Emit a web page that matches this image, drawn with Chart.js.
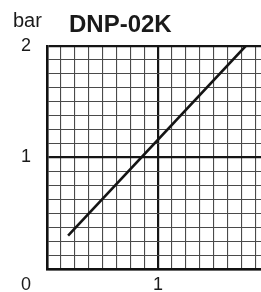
<!DOCTYPE html>
<html>
<head>
<meta charset="utf-8">
<script src="https://cdn.jsdelivr.net/npm/chart.js@4/dist/chart.umd.min.js"></script>
<style>
html,body{margin:0;padding:0;background:#fff;overflow:hidden;width:261px;height:292px;}
#wrap{position:relative;width:300px;height:292px;}
</style>
</head>
<body>
<div id="wrap"><canvas id="c" width="300" height="292"></canvas></div>
<script>
// Data
const titleText = "DNP-02K";
const yUnitLabel = "bar";
const flowX = [0.19, 1.79];
const pressureY = [0.30, 2.0];
const xTickLabels = ["1"];
const yTickLabels = ["1", "2"];
const originLabel = "0";

const points = flowX.map((x, i) => ({x: x, y: pressureY[i]}));

const isMajor = v => Math.abs(v - Math.round(v)) < 1e-6;
const tickFont = {family: "'Liberation Sans', Arial, sans-serif", size: 18};

const overlay = {
  id: 'overlay',
  afterDraw(chart) {
    const ctx = chart.ctx;
    ctx.save();
    ctx.fillStyle = '#1a1a1a';
    ctx.textBaseline = 'alphabetic';
    ctx.textAlign = 'left';
    ctx.font = "bold 24px 'Liberation Sans', Arial, sans-serif";
    ctx.fillText(titleText, 69, 32);
    ctx.font = "20px 'Liberation Sans', Arial, sans-serif";
    ctx.fillText(yUnitLabel, 13, 27);
    ctx.font = "18px 'Liberation Sans', Arial, sans-serif";
    ctx.textAlign = 'center';
    ctx.textBaseline = 'middle';
    ctx.fillText(originLabel, 26, 285);
    ctx.restore();
  }
};

new Chart(document.getElementById('c'), {
  type: 'scatter',
  data: {
    datasets: [{
      data: points,
      showLine: true,
      borderColor: '#141414',
      borderWidth: 2.6,
      pointRadius: 0,
      fill: false
    }]
  },
  options: {
    responsive: false,
    animation: false,
    devicePixelRatio: 1,
    layout: {padding: {top: 46, left: 0, right: 31, bottom: 0}},
    plugins: {legend: {display: false}, tooltip: {enabled: false}, title: {display: false}},
    scales: {
      x: {
        type: 'linear', min: 0, max: 2,
        afterFit: s => { s.height = 23; s.paddingLeft = 0; },
        border: {display: true, color: '#111', width: 2.5},
        grid: {
          drawTicks: false,
          color: c => isMajor(c.tick.value) ? '#151515' : '#4a4a4a',
          lineWidth: c => isMajor(c.tick.value) ? 2.2 : 1.1
        },
        ticks: {
          stepSize: 0.125, autoSkip: false, maxRotation: 0, padding: 5,
          color: '#1a1a1a', font: tickFont,
          callback: v => xTickLabels.includes(String(v)) ? String(v) : ''
        }
      },
      y: {
        type: 'linear', min: 0, max: 2,
        afterFit: s => { s.width = 47; s.paddingBottom = 0; },
        border: {display: true, color: '#111', width: 2.5},
        grid: {
          drawTicks: false,
          color: c => isMajor(c.tick.value) ? '#151515' : '#4a4a4a',
          lineWidth: c => isMajor(c.tick.value) ? 2.2 : 1.1
        },
        ticks: {
          stepSize: 0.125, autoSkip: false, padding: 16,
          color: '#1a1a1a', font: tickFont,
          callback: v => yTickLabels.includes(String(v)) ? String(v) : ''
        }
      }
    }
  },
  plugins: [overlay]
});
</script>
</body>
</html>
